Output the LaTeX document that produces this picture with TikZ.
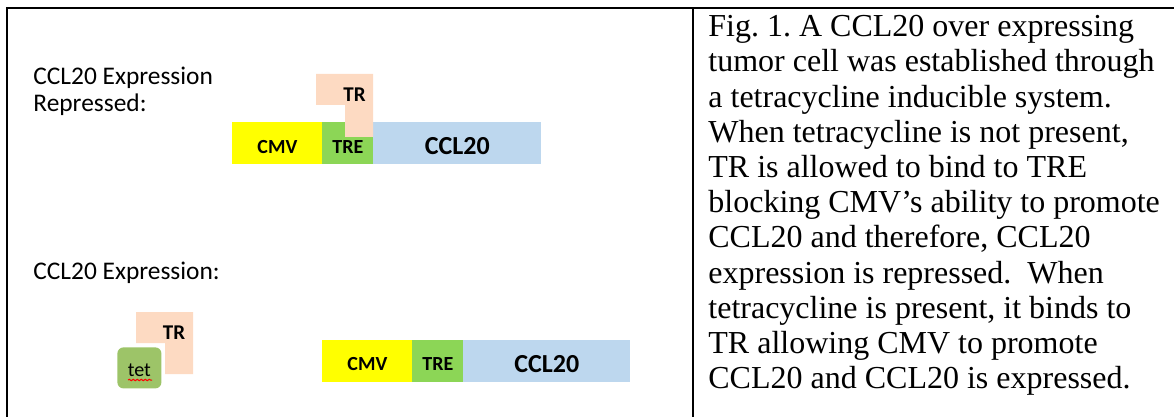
\documentclass[tikz,border=0pt]{standalone}
\usepackage{fontspec}
\setmainfont{Liberation Serif}
\newfontfamily\calib{Carlito}
\usetikzlibrary{decorations.pathmorphing}
\definecolor{cmvY}{HTML}{FFFF00}
\definecolor{treG}{HTML}{8CD656}
\definecolor{cclB}{HTML}{BDD7EE}
\definecolor{trP}{HTML}{FDDAC2}
\definecolor{tetG}{HTML}{9DC468}
\frenchspacing
\begin{document}
\begin{tikzpicture}[x=0.5pt,y=-0.5pt,
  gene/.style={rectangle,inner sep=0pt,anchor=north west,minimum height=21pt,
    font=\calib\bfseries\fontsize{10}{12}\selectfont,text height=10pt,text depth=0pt},
  bigtext/.style={font=\calib\bfseries\fontsize{13}{15}\selectfont,text height=11.5pt,text depth=0pt},
  trlabel/.style={inner sep=0pt,font=\calib\bfseries\fontsize{10.5}{12}\selectfont},
  tetbox/.style={rectangle,rounded corners=3pt,fill=tetG,inner sep=0pt,anchor=north west,
    minimum width=22pt,minimum height=20.5pt,font=\calib\fontsize{10}{12}\selectfont,
    text height=8.5pt,text depth=0pt},
  lbl/.style={anchor=north west,align=left,inner sep=0pt,font=\calib\fontsize{12.7}{13.5}\selectfont},
  frame/.style={line width=1pt}]
\useasboundingbox (0,0) rectangle (1174,417);
% frame
\draw[frame,line join=miter] (7,417) -- (7,7.7) -- (1174,7.7);
\draw[frame] (692.7,7.7) -- (692.7,417);
% labels
\node[lbl] (lab1) at (33,67) {CCL20 Expression\\Repressed:};
\node[lbl] (lab2) at (33,262) {CCL20 Expression:};
% top construct
\node[gene,fill=cmvY,minimum width=45pt] (cmv1) at (232,122) {CMV};
\node[gene,fill=treG,minimum width=25.5pt] (tre1) at (322,122) {TRE};
\node[gene,bigtext,fill=cclB,minimum width=84pt] (ccl1) at (373,122) {CCL20};
\fill[trP] (316,74) -- (373,74) -- (373,137) -- (345,137) -- (345,105) -- (316,105) -- cycle;
\node[trlabel] (tr1) at (354.5,95) {TR};
% bottom construct
\node[gene,fill=cmvY,minimum width=45pt,text height=9pt] (cmv2) at (322,340) {CMV};
\node[gene,fill=treG,minimum width=25.5pt,text height=9pt] (tre2) at (412,340) {TRE};
\node[gene,bigtext,fill=cclB,minimum width=83.5pt,text height=11pt] (ccl2) at (463,340) {CCL20};
\fill[trP] (136,312) -- (193,312) -- (193,374) -- (165,374) -- (165,343) -- (136,343) -- cycle;
\node[trlabel] (tr2) at (174,333) {TR};
\node[tetbox] (tet) at (117,347) {tet};
\draw[red,line width=0.5pt,decorate,decoration={snake,amplitude=0.35pt,segment length=2pt}] (128,380) -- (152,380);
% caption
\node[anchor=north west,align=left,inner sep=0pt,font=\fontsize{16}{17.6}\selectfont] (cap) at (708,15) {%
Fig. 1. A CCL20 over expressing\\
tumor cell was established through\\
a tetracycline inducible system.\\
When tetracycline is not present,\\
TR is allowed to bind to TRE\\
blocking CMV’s ability to promote\\
CCL20 and therefore, CCL20\\
expression is repressed.\ \ When\\
tetracycline is present, it binds to\\
TR allowing CMV to promote\\
CCL20 and CCL20 is expressed.};
\end{tikzpicture}
\end{document}
